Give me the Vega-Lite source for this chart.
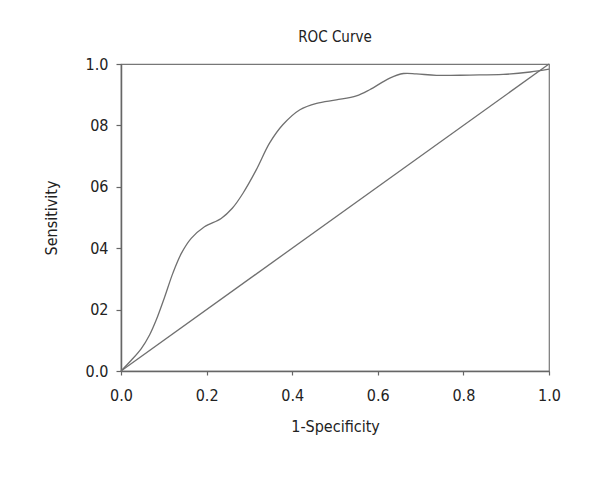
{
  "$schema": "https://vega.github.io/schema/vega-lite/v6.json",
  "autosize": "none",
  "padding": {"left": 121, "top": 64, "right": 51, "bottom": 129},
  "width": 428,
  "height": 307,
  "background": "white",
  "title": {"text": "ROC Curve", "fontSize": 15, "font": "DejaVu Sans Condensed, sans-serif", "fontWeight": "normal", "color": "#222", "offset": 11},
  "config": {
    "view": {"stroke": "#777", "strokeWidth": 1.2},
    "axis": {"labelFont": "DejaVu Sans Condensed, sans-serif", "titleFont": "DejaVu Sans Condensed, sans-serif", "labelFontSize": 16, "titleFontSize": 16, "titleFontWeight": "normal", "labelColor": "#222", "titleColor": "#222", "domainColor": "#666", "domainWidth": 1.5, "tickColor": "#666", "tickWidth": 1.2, "grid": false, "labelFlush": false}
  },
  "datasets": {
    "roc": [
      {"fpr": 0.0, "tpr": 0.0},
      {"fpr": 0.024, "tpr": 0.035},
      {"fpr": 0.047, "tpr": 0.072},
      {"fpr": 0.067, "tpr": 0.118},
      {"fpr": 0.082, "tpr": 0.165},
      {"fpr": 0.102, "tpr": 0.241},
      {"fpr": 0.121, "tpr": 0.318},
      {"fpr": 0.141, "tpr": 0.383},
      {"fpr": 0.164, "tpr": 0.432},
      {"fpr": 0.195, "tpr": 0.470},
      {"fpr": 0.234, "tpr": 0.497},
      {"fpr": 0.260, "tpr": 0.530},
      {"fpr": 0.285, "tpr": 0.579},
      {"fpr": 0.316, "tpr": 0.655},
      {"fpr": 0.347, "tpr": 0.742},
      {"fpr": 0.378, "tpr": 0.802},
      {"fpr": 0.418, "tpr": 0.851},
      {"fpr": 0.457, "tpr": 0.872},
      {"fpr": 0.503, "tpr": 0.883},
      {"fpr": 0.550, "tpr": 0.896},
      {"fpr": 0.581, "tpr": 0.916},
      {"fpr": 0.628, "tpr": 0.954},
      {"fpr": 0.660, "tpr": 0.969},
      {"fpr": 0.690, "tpr": 0.968},
      {"fpr": 0.737, "tpr": 0.963},
      {"fpr": 0.815, "tpr": 0.964},
      {"fpr": 0.893, "tpr": 0.966},
      {"fpr": 0.956, "tpr": 0.974},
      {"fpr": 1.0, "tpr": 0.983}
    ],
    "diag": [
      {"fpr": 0.0, "tpr": 0.0},
      {"fpr": 1.0, "tpr": 1.0}
    ]
  },
  "layer": [
    {
      "data": {"name": "diag"},
      "mark": {"type": "line", "color": "#707070", "strokeWidth": 1.3},
      "encoding": {
        "x": {"field": "fpr", "type": "quantitative", "scale": {"domain": [0, 1]}, "axis": {"title": "1-Specificity", "values": [0, 0.2, 0.4, 0.6, 0.8, 1], "format": ".1f", "tickSize": 4, "labelPadding": 12, "titlePadding": 15}},
        "y": {"field": "tpr", "type": "quantitative", "scale": {"domain": [0, 1]}, "axis": {"title": "Sensitivity", "values": [0, 0.2, 0.4, 0.6, 0.8, 1], "labelExpr": "datum.value == 0 ? '0.0' : datum.value == 1 ? '1.0' : '0' + round(datum.value * 10)", "tickSize": 5, "labelPadding": 8, "titlePadding": 26}}
      }
    },
    {
      "data": {"name": "roc"},
      "mark": {"type": "line", "color": "#707070", "strokeWidth": 1.3, "interpolate": "catmull-rom"},
      "encoding": {
        "x": {"field": "fpr", "type": "quantitative"},
        "y": {"field": "tpr", "type": "quantitative"}
      }
    }
  ]
}
